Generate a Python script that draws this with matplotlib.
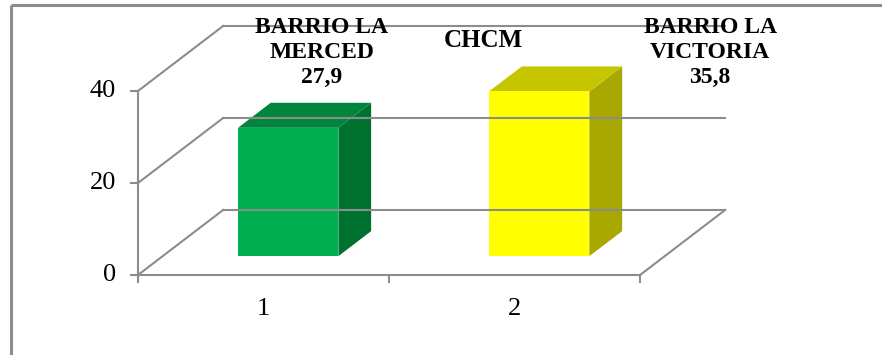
import matplotlib
matplotlib.use('Agg')
import matplotlib.pyplot as plt
from matplotlib.patches import Polygon

plt.rcParams['font.family'] = ['Liberation Serif', 'DejaVu Serif']

# datos
categories = [1, 2]
values = [27.9, 35.8]
bar_labels = ['BARRIO LA\nMERCED\n27,9', 'BARRIO LA\nVICTORIA\n35,8']
series_name = 'CHCM'
yticks = [0, 20, 40]
xtick_labels = ['1', '2']

face_colors = ['#00B050', '#FFFF00']
top_colors = ['#00853E', '#C6C600']
side_colors = ['#007230', '#A8A800']

GRID = '#8C8C8C'

# pseudo-3D: vector de profundidad en unidades de datos
DX, DY = 0.339, 14.13
D0, D1 = 0.29, 0.675   # profundidad de las barras
HW = 0.2               # media anchura de barra

fig = plt.figure(figsize=(8.82, 3.55), dpi=100)
ax = fig.add_axes([0, 0, 1, 1])
ax.set_xlim(-0.0498, 3.464)
ax.set_ylim(-17.39, 59.78)
ax.axis('off')

# marco exterior
ax.plot([0.0125, 0.0125], [0, 0.986], transform=ax.transAxes, color='#8C8C8C', lw=2.2,
        solid_capstyle='butt')
ax.plot([0.0125, 1.0], [0.986, 0.986], transform=ax.transAxes, color='#8C8C8C', lw=2.2,
        solid_capstyle='butt')

x0, x1 = 0.5, len(categories) + 0.5

# paredes: lineas de la rejilla
for v in yticks:
    ax.plot([x0, x0 + DX], [v, v + DY], color=GRID, lw=1.5)
    ax.plot([x0 + DX, x1 + DX], [v + DY, v + DY], color=GRID, lw=1.5)
# suelo
ax.plot([x0, x1], [0, 0], color=GRID, lw=1.5)
ax.plot([x1, x1 + DX], [0, DY], color=GRID, lw=1.5)
# eje y
ax.plot([x0, x0], [0, yticks[-1]], color=GRID, lw=1.5)
for v in yticks:
    ax.plot([x0 - 0.028, x0], [v, v], color=GRID, lw=1.5)
    ax.text(x0 - 0.088, v, str(v), ha='right', va='center', fontsize=19)
# marcas eje x
for t in range(len(categories) + 1):
    ax.plot([x0 + t, x0 + t], [0, -1.5], color=GRID, lw=1.5)
for c, lab in zip(categories, xtick_labels):
    ax.text(c, -7.3, lab, ha='center', va='center', fontsize=19)

# barras
for c, v, fc, tc, sc in zip(categories, values, face_colors, top_colors, side_colors):
    bx0 = c - HW + D0 * DX
    bx1 = c + HW + D0 * DX
    by0 = D0 * DY
    by1 = by0 + v
    ddx, ddy = (D1 - D0) * DX, (D1 - D0) * DY
    ax.add_patch(Polygon([(bx1, by0), (bx1, by1), (bx1 + ddx, by1 + ddy), (bx1 + ddx, by0 + ddy)],
                         closed=True, facecolor=sc, edgecolor='none'))
    ax.add_patch(Polygon([(bx0, by1), (bx1, by1), (bx1 + ddx, by1 + ddy), (bx0 + ddx, by1 + ddy)],
                         closed=True, facecolor=tc, edgecolor='none'))
    ax.add_patch(Polygon([(bx0, by0), (bx1, by0), (bx1, by1), (bx0, by1)],
                         closed=True, facecolor=fc, edgecolor='none'))

# etiquetas
label_dx = [0.233, 0.779]
for c, lab, off in zip(categories, bar_labels, label_dx):
    ax.text(c + off, 48.4, lab, ha='center', va='center', fontsize=17,
            fontweight='bold', linespacing=1.25)
ax.text(1.874, 50.9, series_name, ha='center', va='center', fontsize=18, fontweight='bold')

fig.savefig('out.png', dpi=100)
